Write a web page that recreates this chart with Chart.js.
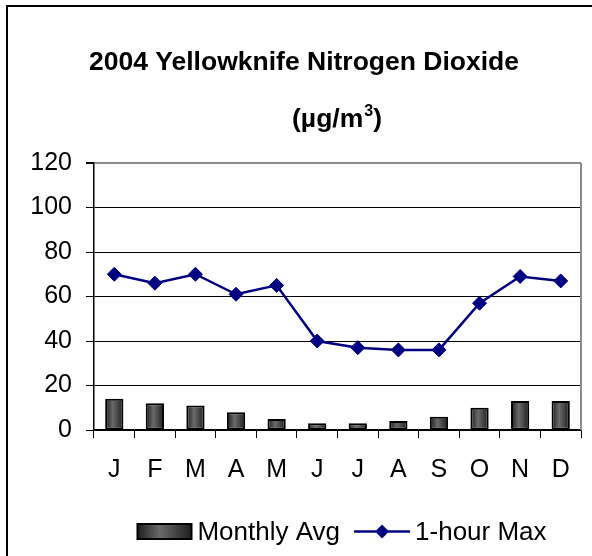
<!DOCTYPE html>
<html>
<head>
<meta charset="utf-8">
<title>2004 Yellowknife Nitrogen Dioxide</title>
<script src="https://cdn.jsdelivr.net/npm/chart.js@4.4.1/dist/chart.umd.min.js"></script>
<style>
    html, body { margin: 0; padding: 0; background: #fff; overflow: hidden; }
    #frame { position: absolute; left: 6px; top: 5px; width: 700px; height: 700px;
             border-left: 2px solid #000; border-top: 2px solid #000; }
    #wrap { position: absolute; left: 0; top: 0; width: 592px; height: 556px; }
</style>
</head>
<body>
<div id="frame"></div>
<div id="wrap"><canvas id="no2Chart" width="592" height="556"></canvas></div>
<script>
// Chart data
var months = ['J', 'F', 'M', 'A', 'M', 'J', 'J', 'A', 'S', 'O', 'N', 'D'];
var monthlyAvg = [14, 12, 11, 8, 5, 3, 3, 4, 6, 10, 13, 13];
var hourMax = [70, 66, 70, 61, 65, 40, 37, 36, 36, 57, 69, 67];
var yTicks = [0, 20, 40, 60, 80, 100, 120];
var titleText = '2004 Yellowknife Nitrogen Dioxide';
var unitParts = ['(\u00b5g/m', '3', ')'];   // unit line, middle part is superscript
var seriesNames = ['Monthly Avg', '1-hour Max'];

var FONT = "'Liberation Sans', Arial, sans-serif";
var NAVY = '#000080';
var BAR_PCT = 0.45;

Chart.defaults.font.family = FONT;
Chart.defaults.color = '#000';

// Gray gradient like the old Excel bars
function grayGradient(ctx, x0, x1) {
    var g = ctx.createLinearGradient(x0, 0, x1, 0);
    g.addColorStop(0, '#1c1c1c');
    g.addColorStop(0.42, '#6a6a6a');
    g.addColorStop(1, '#1c1c1c');
    return g;
}

function barFill(context) {
    var chart = context.chart;
    var xs = chart.scales.x;
    if (!chart.chartArea || !xs || context.type !== 'data') {
        return '#4a4a4a';
    }
    var cx = xs.getPixelForValue(context.dataIndex);
    var half = xs.width / months.length * BAR_PCT / 2;
    return grayGradient(chart.ctx, cx - half, cx + half);
}

// Legend swatches (drawn as point style images)
function makeBarSwatch() {
    var c = document.createElement('canvas');
    c.width = 96; c.height = 22;
    var g = c.getContext('2d');
    g.fillStyle = grayGradient(g, 28, 84);
    g.fillRect(28, 1, 56, 17);
    g.lineWidth = 2;
    g.strokeStyle = '#000';
    g.strokeRect(29, 2, 54, 15);
    return c;
}

function makeLineSwatch() {
    var c = document.createElement('canvas');
    c.width = 96; c.height = 22;
    var g = c.getContext('2d');
    var cy = 9.5;
    g.strokeStyle = NAVY;
    g.lineWidth = 2.5;
    g.beginPath();
    g.moveTo(28, cy);
    g.lineTo(84, cy);
    g.stroke();
    g.fillStyle = NAVY;
    g.beginPath();
    g.moveTo(56, cy - 7);
    g.lineTo(63, cy);
    g.lineTo(56, cy + 7);
    g.lineTo(49, cy);
    g.closePath();
    g.fill();
    return c;
}

var barSwatch = makeBarSwatch();
var lineSwatch = makeLineSwatch();

// Title lines and gray plot-area edge
var titlePlugin = {
    id: 'titlePlugin',
    beforeDatasetsDraw: function(chart) {
        var a = chart.chartArea;
        var ctx = chart.ctx;
        ctx.save();
        ctx.strokeStyle = '#8c8c8c';
        ctx.lineWidth = 2;
        ctx.beginPath();
        ctx.moveTo(a.right, a.top);
        ctx.lineTo(a.right, a.bottom);
        ctx.stroke();
        ctx.restore();
    },
    afterDraw: function(chart) {
        var a = chart.chartArea;
        var ctx = chart.ctx;
        var big = 'bold 26.5px ' + FONT;
        var small = 'bold 16px ' + FONT;
        ctx.save();
        ctx.fillStyle = '#000';
        ctx.textBaseline = 'alphabetic';
        ctx.textAlign = 'center';
        ctx.font = big;
        ctx.fillText(titleText, chart.width / 2 + 8, 69.5);

        // unit line with a raised small 3
        ctx.textAlign = 'left';
        ctx.font = big;
        var w0 = ctx.measureText(unitParts[0]).width;
        var w2 = ctx.measureText(unitParts[2]).width;
        ctx.font = small;
        var w1 = ctx.measureText(unitParts[1]).width;
        var x = (a.left + a.right) / 2 - 1 - (w0 + w1 + w2) / 2;
        ctx.font = big;
        ctx.fillText(unitParts[0], x, 127);
        ctx.font = small;
        ctx.fillText(unitParts[1], x + w0 + 1, 116);
        ctx.font = big;
        ctx.fillText(unitParts[2], x + w0 + w1 + 1, 127);
        ctx.restore();
    }
};

var ctx = document.getElementById('no2Chart').getContext('2d');
var no2Chart = new Chart(ctx, {
    type: 'bar',
    data: {
        labels: months,
        datasets: [{
            type: 'bar',
            label: seriesNames[0],
            data: monthlyAvg,
            backgroundColor: barFill,
            borderColor: '#000',
            borderWidth: 2,
            borderSkipped: false,
            barPercentage: BAR_PCT,
            categoryPercentage: 1
        }, {
            type: 'line',
            label: seriesNames[1],
            data: hourMax,
            borderColor: NAVY,
            borderWidth: 2.5,
            backgroundColor: NAVY,
            pointStyle: 'rectRot',
            pointRadius: 7,
            pointBorderWidth: 1,
            pointBackgroundColor: NAVY,
            pointBorderColor: NAVY,
            tension: 0,
            fill: false
        }]
    },
    options: {
        responsive: false,
        animation: false,
        events: [],
        layout: {
            padding: { top: 163, right: 11, bottom: 0, left: 0 }
        },
        scales: {
            x: {
                offset: true,
                afterFit: function(scale) { scale.height = 84; },
                grid: {
                    offset: true,
                    drawOnChartArea: false,
                    tickLength: 8,
                    color: '#000'
                },
                border: { color: '#000', width: 1.5 },
                ticks: {
                    padding: 17,
                    font: { size: 25 },
                    color: '#000',
                    maxRotation: 0,
                    autoSkip: false
                }
            },
            y: {
                min: yTicks[0],
                max: yTicks[yTicks.length - 1],
                afterFit: function(scale) { scale.width = 94; },
                afterBuildTicks: function(scale) {
                    scale.ticks = yTicks.map(function(v) { return { value: v }; });
                },
                grid: {
                    tickLength: 8,
                    tickColor: '#000',
                    color: function(c) {
                        return c.tick && c.tick.value === yTicks[yTicks.length - 1] ? '#8c8c8c' : '#000';
                    },
                    lineWidth: function(c) {
                        return c.tick && c.tick.value === yTicks[yTicks.length - 1] ? 2 : 1;
                    }
                },
                border: { color: '#000', width: 1.5 },
                ticks: {
                    padding: 14,
                    font: { size: 25 },
                    color: '#000'
                }
            }
        },
        plugins: {
            title: { display: false },
            tooltip: { enabled: false },
            legend: {
                position: 'bottom',
                fullSize: false,
                labels: {
                    usePointStyle: true,
                    pointStyleWidth: 56,
                    padding: 6,
                    font: { size: 26 },
                    color: '#000',
                    generateLabels: function(chart) {
                        return [
                            { text: seriesNames[0], pointStyle: barSwatch, fillStyle: '#444',
                              strokeStyle: '#000', lineWidth: 0, hidden: false, datasetIndex: 0 },
                            { text: seriesNames[1], pointStyle: lineSwatch, fillStyle: NAVY,
                              strokeStyle: NAVY, lineWidth: 0, hidden: false, datasetIndex: 1 }
                        ];
                    }
                }
            }
        }
    },
    plugins: [titlePlugin]
});
</script>
</body>
</html>
